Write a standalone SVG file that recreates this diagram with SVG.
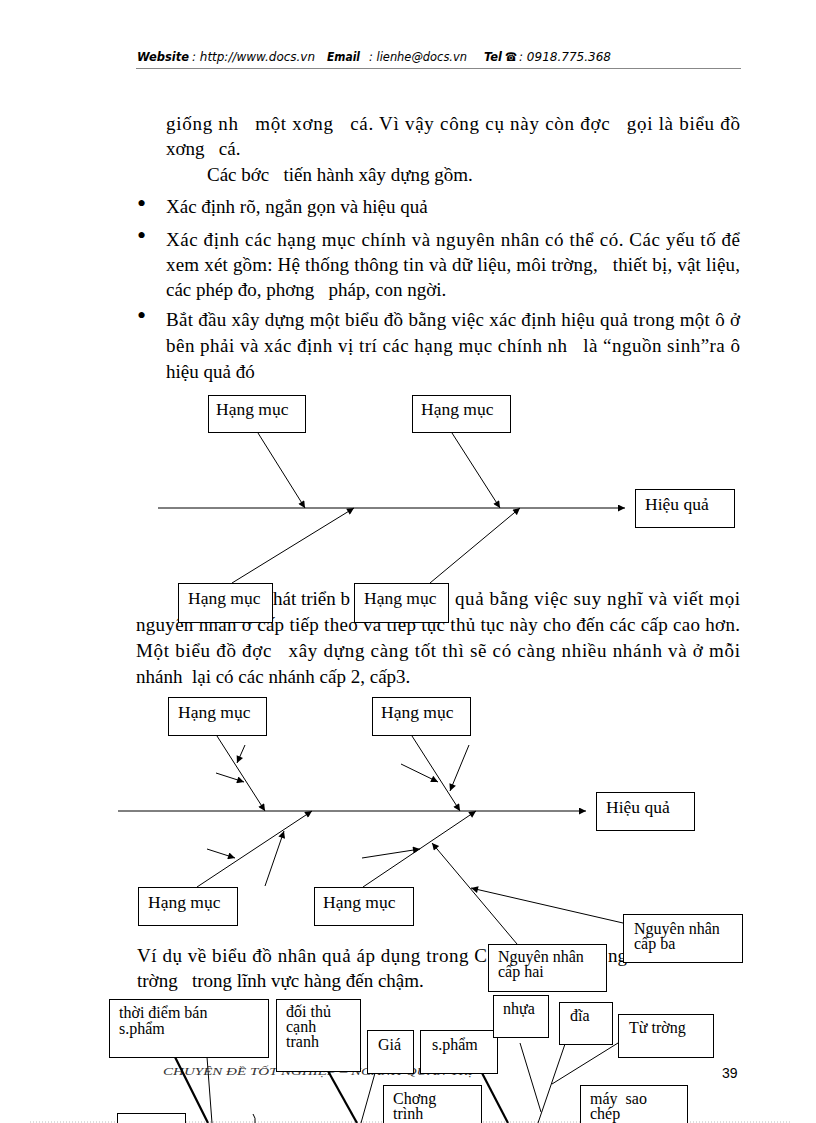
<svg xmlns="http://www.w3.org/2000/svg" width="816" height="1123" viewBox="0 0 816 1123">
<defs>
<style>
.t{font-family:"Liberation Serif","Times New Roman",serif;font-size:19px;fill:#000;white-space:pre}
.bul{font-family:"Liberation Serif","Times New Roman",serif;font-size:26px;fill:#000}
.lbl{font-family:"Liberation Serif","Times New Roman",serif;font-size:17.5px;fill:#000;white-space:pre}
.sm{font-family:"Liberation Serif","Times New Roman",serif;font-size:16px;fill:#000;white-space:pre}
.hd{font-family:"DejaVu Sans","Verdana",sans-serif;font-size:12px;font-style:italic;fill:#000;white-space:pre}
.hb{font-weight:bold}
.box{fill:#fff;stroke:#000;stroke-width:1}
.ln{stroke:#000;stroke-width:1;fill:none}
.thick{stroke:#000;stroke-width:2.2;fill:none}
</style>
<marker id="ah" viewBox="0 0 10 10" refX="10" refY="5" markerWidth="9" markerHeight="7" markerUnits="userSpaceOnUse" orient="auto">
<path d="M0,0 L10,5 L0,10 z" fill="#000"/>
</marker>
</defs>
<rect width="816" height="1123" fill="#fff"/>

<!-- header -->
<g id="header">
<text class="hd hb" x="137" y="61" textLength="52" lengthAdjust="spacingAndGlyphs">Website</text>
<text class="hd" x="192" y="61" textLength="123" lengthAdjust="spacingAndGlyphs">: http://www.docs.vn</text>
<text class="hd hb" x="327" y="61" textLength="33" lengthAdjust="spacingAndGlyphs">Email</text>
<text class="hd" x="369" y="61" textLength="98" lengthAdjust="spacingAndGlyphs">: lienhe@docs.vn</text>
<text class="hd hb" x="484" y="61" textLength="18" lengthAdjust="spacingAndGlyphs">Tel</text>
<text class="hd hb" x="505" y="61" textLength="12" lengthAdjust="spacingAndGlyphs">☎</text>
<text class="hd" x="519" y="61" textLength="92" lengthAdjust="spacingAndGlyphs">: 0918.775.368</text>
<line x1="136" y1="68.5" x2="741" y2="68.5" stroke="#888" stroke-width="1"/>
</g>

<!-- body text -->
<g id="body">
<text class="t" x="166" y="130" textLength="574" lengthAdjust="spacing">giống nh   một xơng   cá. Vì vậy công cụ này còn đợc   gọi là biểu đồ</text>
<text class="t" x="166" y="155">xơng   cá.</text>
<text class="t" x="207" y="181">Các bớc   tiến hành xây dựng gồm.</text>
<text class="bul" x="137" y="212">•</text>
<text class="t" x="166" y="213">Xác định rõ, ngắn gọn và hiệu quả</text>
<text class="bul" x="137" y="244">•</text>
<text class="t" x="166" y="246" textLength="574" lengthAdjust="spacing">Xác định các hạng mục chính và nguyên nhân có thể có. Các yếu tố để</text>
<text class="t" x="166" y="271" textLength="574" lengthAdjust="spacing">xem xét gồm: Hệ thống thông tin và dữ liệu, môi trờng,   thiết bị, vật liệu,</text>
<text class="t" x="166" y="296">các phép đo, phơng   pháp, con ngời.</text>
<text class="bul" x="137" y="324">•</text>
<text class="t" x="166" y="326" textLength="574" lengthAdjust="spacing">Bắt đầu xây dựng một biểu đồ bằng việc xác định hiệu quả trong một ô ở</text>
<text class="t" x="166" y="352" textLength="574" lengthAdjust="spacing">bên phải và xác định vị trí các hạng mục chính nh   là “nguồn sinh”ra ô</text>
<text class="t" x="166" y="378">hiệu quả đó</text>

<text class="t" x="273" y="605">hát triển b</text>
<text class="t" x="455" y="605" textLength="285" lengthAdjust="spacing">quả bằng việc suy nghĩ và viết mọi</text>
<text class="t" x="136" y="631" textLength="604" lengthAdjust="spacing">nguyên nhân ở cấp tiếp theo và tiếp tục thủ tục này cho đến các cấp cao hơn.</text>
<text class="t" x="136" y="657" textLength="604" lengthAdjust="spacing">Một biểu đồ đợc   xây dựng càng tốt thì sẽ có càng nhiều nhánh và ở mỗi</text>
<text class="t" x="136" y="683">nhánh  lại có các nhánh cấp 2, cấp3.</text>

<text class="t" x="137" y="962" textLength="350" lengthAdjust="spacing">Ví dụ về biểu đồ nhân quả áp dụng trong C</text>
<text class="t" x="608" y="962">ngh</text>
<text class="t" x="137" y="987">trờng   trong lĩnh vực hàng đến chậm.</text>
</g>

<!-- footer -->
<g id="footer">
<text x="163" y="1075" textLength="310" lengthAdjust="spacingAndGlyphs" font-family="Liberation Serif, serif" font-size="11" font-style="italic" fill="#333">CHUYÊN ĐỀ TỐT NGHIỆP – NGÀNH QUẢN TRỊ</text>
<text x="722" y="1078" font-family="Liberation Sans, Arial, sans-serif" font-size="14" fill="#000">39</text>
<line x1="30" y1="1122" x2="790" y2="1122" stroke="#bbb" stroke-width="1" stroke-dasharray="1,2"/>
</g>

<!-- connectors -->
<g id="connectors">
<!-- diagram 1 -->
<line class="ln" x1="158" y1="508" x2="625" y2="508" marker-end="url(#ah)"/>
<line class="ln" x1="258" y1="433" x2="305" y2="508" marker-end="url(#ah)"/>
<line class="ln" x1="452" y1="433" x2="500" y2="508" marker-end="url(#ah)"/>
<line class="ln" x1="232" y1="583" x2="354" y2="508" marker-end="url(#ah)"/>
<line class="ln" x1="430" y1="583" x2="520" y2="508" marker-end="url(#ah)"/>
<!-- diagram 2 -->
<line class="ln" x1="118" y1="811" x2="586" y2="811" marker-end="url(#ah)"/>
<line class="ln" x1="217" y1="736" x2="265" y2="811" marker-end="url(#ah)"/>
<line class="ln" x1="245" y1="745" x2="237" y2="763" marker-end="url(#ah)"/>
<line class="ln" x1="216" y1="773" x2="244" y2="782" marker-end="url(#ah)"/>
<line class="ln" x1="412" y1="736" x2="460" y2="811" marker-end="url(#ah)"/>
<line class="ln" x1="401" y1="764" x2="438" y2="782" marker-end="url(#ah)"/>
<line class="ln" x1="469" y1="745" x2="450" y2="791" marker-end="url(#ah)"/>
<line class="ln" x1="197" y1="887" x2="312" y2="811" marker-end="url(#ah)"/>
<line class="ln" x1="207" y1="849" x2="235" y2="858" marker-end="url(#ah)"/>
<line class="ln" x1="265" y1="886" x2="284" y2="831" marker-end="url(#ah)"/>
<line class="ln" x1="363" y1="887" x2="476" y2="811" marker-end="url(#ah)"/>
<line class="ln" x1="362" y1="858" x2="420" y2="849" marker-end="url(#ah)"/>
<line class="ln" x1="517" y1="944" x2="432" y2="843" marker-end="url(#ah)"/>
<line class="ln" x1="623" y1="923" x2="471" y2="888" marker-end="url(#ah)"/>
<!-- bottom example -->
<line class="thick" x1="175" y1="1057" x2="208" y2="1123"/>
<line class="ln" x1="207" y1="1057" x2="212" y2="1123"/>
<path class="ln" d="M253,1114 Q256,1118 255,1123"/>
<line class="thick" x1="328" y1="1071" x2="357" y2="1123"/>
<line class="ln" x1="375" y1="1073" x2="361" y2="1123"/>
<line class="thick" x1="482" y1="1073" x2="508" y2="1123"/>
<line class="ln" x1="520" y1="1043" x2="541" y2="1112"/>
<line class="ln" x1="565" y1="1044" x2="538" y2="1123"/>
<line class="ln" x1="618" y1="1043" x2="552" y2="1084"/>
</g>

<!-- diagram 1 nodes -->
<g id="d1-cat1"><rect class="box" x="208.5" y="395.5" width="97" height="37"/><text class="lbl" x="216" y="415">Hạng mục</text></g>
<g id="d1-cat2"><rect class="box" x="412.5" y="395.5" width="98" height="37"/><text class="lbl" x="421" y="415">Hạng mục</text></g>
<g id="d1-effect"><rect class="box" x="635.5" y="489.5" width="99" height="38"/><text class="lbl" x="645" y="510">Hiệu quả</text></g>
<g id="d1-cat3"><rect class="box" x="178.5" y="583.5" width="94" height="39"/><text class="lbl" x="188" y="604">Hạng mục</text></g>
<g id="d1-cat4"><rect class="box" x="354.5" y="583.5" width="94" height="39"/><text class="lbl" x="364" y="604">Hạng mục</text></g>

<!-- diagram 2 nodes -->
<g id="d2-cat1"><rect class="box" x="168.5" y="697.5" width="98" height="38"/><text class="lbl" x="178" y="718">Hạng mục</text></g>
<g id="d2-cat2"><rect class="box" x="372.5" y="697.5" width="98" height="38"/><text class="lbl" x="381" y="718">Hạng mục</text></g>
<g id="d2-effect"><rect class="box" x="596.5" y="792.5" width="98" height="38"/><text class="lbl" x="606" y="813">Hiệu quả</text></g>
<g id="d2-cat3"><rect class="box" x="138.5" y="887.5" width="99" height="38"/><text class="lbl" x="148" y="908">Hạng mục</text></g>
<g id="d2-cat4"><rect class="box" x="314.5" y="887.5" width="99" height="38"/><text class="lbl" x="323" y="908">Hạng mục</text></g>
<g id="d2-cause3"><rect class="box" x="623.5" y="914.5" width="119" height="48"/><text class="sm" x="634" y="934">Nguyên nhân</text><text class="sm" x="634" y="949">cấp ba</text></g>
<g id="d2-cause2"><rect class="box" x="488.5" y="944.5" width="118" height="47"/><text class="sm" x="498" y="962">Nguyên nhân</text><text class="sm" x="498" y="977">cấp hai</text></g>

<!-- bottom example nodes -->
<g id="ex-time"><rect class="box" x="109.5" y="999.5" width="159" height="58"/><text class="sm" x="119" y="1018">thời điểm bán</text><text class="sm" x="119" y="1034">s.phẩm</text></g>
<g id="ex-competitor"><rect class="box" x="276.5" y="999.5" width="84" height="72"/><text class="sm" x="286" y="1017">đối thủ</text><text class="sm" x="286" y="1032">cạnh</text><text class="sm" x="286" y="1047">tranh</text></g>
<g id="ex-price"><rect class="box" x="367.5" y="1030.5" width="46" height="43"/><text class="sm" x="378" y="1050">Giá</text></g>
<g id="ex-product"><rect class="box" x="420.5" y="1030.5" width="77" height="43"/><text class="sm" x="432" y="1050">s.phẩm</text></g>
<g id="ex-plastic"><rect class="box" x="493.5" y="995.5" width="55" height="42"/><text class="sm" x="503" y="1014">nhựa</text></g>
<g id="ex-disc"><rect class="box" x="559.5" y="1002.5" width="53" height="42"/><text class="sm" x="570" y="1021">đĩa</text></g>
<g id="ex-magnetic"><rect class="box" x="618.5" y="1014.5" width="95" height="43"/><text class="sm" x="629" y="1033">Từ trờng</text></g>
<g id="ex-program"><rect class="box" x="383.5" y="1085.5" width="98" height="45"/><text class="sm" x="393" y="1104">Chơng</text><text class="sm" x="393" y="1119">trình</text></g>
<g id="ex-copier"><rect class="box" x="580.5" y="1085.5" width="107" height="45"/><text class="sm" x="590" y="1104">máy  sao</text><text class="sm" x="590" y="1119">chép</text></g>
<g id="ex-market"><rect class="box" x="117.5" y="1113.5" width="68" height="20"/></g>
</svg>
